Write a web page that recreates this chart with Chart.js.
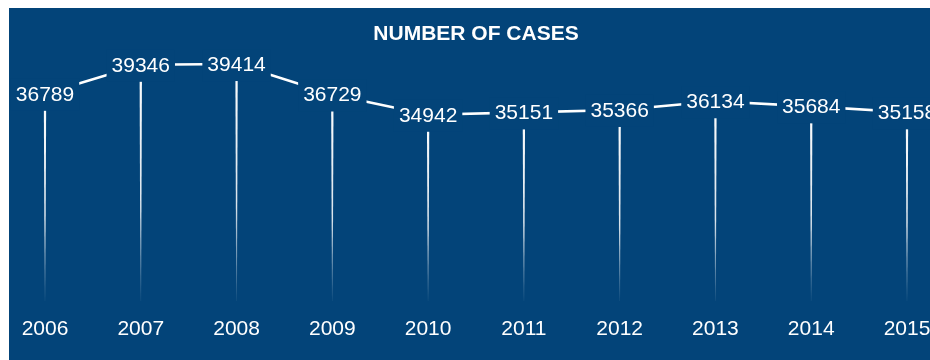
<!DOCTYPE html>
<html>
<head>
<meta charset="utf-8">
<script src="https://cdn.jsdelivr.net/npm/chart.js@4.4.0/dist/chart.umd.min.js"></script>
<style>
  html, body { margin: 0; padding: 0; background: #ffffff; overflow: hidden; }
  #caja { position: absolute; left: 9px; top: 8px; width: 934px; height: 352px; background: #034479; }
</style>
</head>
<body>
<div id="caja"><canvas id="grafico_casos"></canvas></div>
<script>
var anos = ["2006", "2007", "2008", "2009", "2010", "2011", "2012", "2013", "2014", "2015"];
var casos = [36789, 39346, 39414, 36729, 34942, 35151, 35366, 36134, 35684, 35158];

var azulFondo = "#034479";

// lineas verticales desde cada punto hasta la base + etiquetas con fondo
var lineasVerticales = {
    id: "lineasVerticales",
    beforeDatasetsDraw: function(chart) {
        var ctx = chart.ctx;
        var base = chart.chartArea.bottom;
        var puntos = chart.getDatasetMeta(0).data;
        ctx.save();
        for (var i = 0; i < puntos.length; i++) {
            var p = puntos[i];
            var grad = ctx.createLinearGradient(0, p.y, 0, base);
            grad.addColorStop(0, "rgba(255,255,255,1)");
            grad.addColorStop(0.6, "rgba(255,255,255,0.85)");
            grad.addColorStop(1, "rgba(255,255,255,0.05)");
            ctx.fillStyle = grad;
            ctx.beginPath();
            ctx.moveTo(p.x - 1.2, p.y);
            ctx.lineTo(p.x + 1.2, p.y);
            ctx.lineTo(p.x + 0.4, base);
            ctx.lineTo(p.x - 0.4, base);
            ctx.closePath();
            ctx.fill();
        }
        ctx.restore();
    },
    afterDatasetsDraw: function(chart) {
        var ctx = chart.ctx;
        var puntos = chart.getDatasetMeta(0).data;
        ctx.save();
        ctx.font = "21px 'Liberation Sans', Arial, sans-serif";
        ctx.textAlign = "center";
        ctx.textBaseline = "middle";
        for (var i = 0; i < puntos.length; i++) {
            var p = puntos[i];
            var texto = String(casos[i]);
            var ancho = ctx.measureText(texto).width;
            ctx.fillStyle = azulFondo;
            ctx.fillRect(p.x - ancho / 2 - 5, p.y - 15, ancho + 10, 32);
            ctx.fillStyle = "#ffffff";
            ctx.fillText(texto, p.x, p.y + 1);
        }
        ctx.restore();
    }
};

var contexto = document.getElementById("grafico_casos").getContext("2d");

var grafico = new Chart(contexto, {
    type: "line",
    data: {
        labels: anos,
        datasets: [{
            label: "Number of cases",
            data: casos,
            borderColor: "#ffffff",
            borderWidth: 2.6,
            pointRadius: 0,
            tension: 0,
            fill: false
        }]
    },
    options: {
        responsive: true,
        maintainAspectRatio: false,
        animation: false,
        layout: {
            padding: { left: 36, right: 36, top: 0, bottom: 1.8 }
        },
        plugins: {
            legend: { display: false },
            tooltip: { enabled: false },
            title: {
                display: true,
                text: "NUMBER OF CASES",
                color: "#ffffff",
                font: { family: "'Liberation Sans', Arial, sans-serif", size: 21, weight: "bold", lineHeight: 1.2 },
                padding: { top: 14, bottom: 7.8 }
            }
        },
        scales: {
            x: {
                offset: false,
                grid: { display: false, drawTicks: false },
                border: { display: false },
                afterFit: function(escala) {
                    // que el area del grafico use solo el padding del layout
                    escala.paddingLeft = 0;
                    escala.paddingRight = 0;
                },
                ticks: {
                    color: "#ffffff",
                    padding: 16,
                    maxRotation: 0,
                    autoSkip: false,
                    font: { family: "'Liberation Sans', Arial, sans-serif", size: 21 }
                }
            },
            y: {
                display: false,
                min: 18530,
                max: 40210
            }
        }
    },
    plugins: [lineasVerticales]
});
</script>
</body>
</html>
